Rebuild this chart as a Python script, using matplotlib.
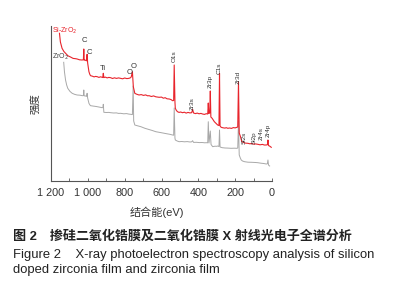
import matplotlib
matplotlib.use("Agg")
import matplotlib.pyplot as plt

# XPS survey spectra (binding energy in eV, intensity in a.u.)
red_ev = [1154, 1149, 1140, 1130, 1121, 1108, 1094, 1080, 1066, 1058, 1045, 1031,
          1024, 1022, 1020, 1016, 1010, 1007, 1004, 1001, 997, 994, 989, 985, 975,
          966, 958, 949, 940, 931, 922, 919, 916, 913, 905, 895, 886, 876, 866, 855,
          845, 833, 822, 811, 800, 788, 776, 768, 764, 758, 753, 745, 735, 722, 710,
          698, 686, 676, 667, 655, 643, 631, 622, 613, 600, 590, 580, 570, 558, 548,
          540, 534, 531, 527, 525, 519, 513, 505, 496, 486, 476, 466, 456, 446, 436,
          431, 426, 416, 406, 396, 386, 377, 367, 357, 349, 346, 343, 338, 335, 332,
          325, 319, 313, 304, 295, 288, 285, 282, 276, 266, 256, 248, 240, 230, 220,
          210, 200, 190, 186, 182, 178, 171, 164, 155, 145, 131, 120, 110, 100, 90,
          77, 65, 52, 42, 31, 25, 22, 19, 12, 4]
red_int = [147.7, 139, 132.7, 129.5, 127.7, 125.2, 124, 122.6, 122.3, 122, 121.2, 121,
           121.3, 132, 120.8, 121, 120.4, 120.2, 126.7, 118, 113, 109.3, 106.5, 105.3, 104.8,
           104.1, 104.6, 104.3, 103.6, 104.2, 103.7, 103.5, 107.7, 103.4, 103.9, 103.1, 103.6, 103.3, 102.5, 103.2,
           102.6, 103.1, 102.7, 102.2, 103, 102.4, 102.7, 103.3, 104.3, 109.3, 94.3, 87.7, 86.8, 86, 86.4,
           85.6, 86.1, 85.2, 85.3, 84.5, 85.1, 84.2, 84, 83.7, 83.9, 82.8, 83.3, 82.2, 82, 81.4,
           80.3, 80.5, 116, 79, 72.7, 70.5, 69.3, 68.6, 69, 68.3, 68.8, 67.9, 68.6, 68.1, 68.3,
           71.7, 68, 67.4, 67.9, 67.2, 67.6, 67, 66.6, 67.3, 67, 78, 67.5, 68, 90, 64,
           62.7, 61, 59.3, 57.6, 56, 55.5, 107.7, 55, 53.7, 53.2, 52.9, 53.3, 52.7, 53, 52.6,
           53.4, 53.1, 53.7, 54, 99.3, 48, 44.3, 39.3, 38.6, 37.9, 37.7, 37.2, 37.5, 36.8, 37.1,
           36.7, 36.2, 36.6, 36, 36, 36.3, 41, 35.5, 34.8, 33.7]

gray_ev = [1131, 1127, 1121, 1115, 1109, 1097, 1085, 1071, 1058, 1042, 1030, 1024,
           1022, 1020, 1012, 1007, 1004, 1001, 997, 994, 989, 985, 970, 958, 949, 935,
           922, 918, 916, 913, 900, 886, 876, 860, 845, 833, 822, 805, 790, 777, 767,
           758, 754, 751, 745, 730, 712, 690, 670, 650, 631, 610, 590, 570, 555, 540,
           534, 531, 527, 525, 515, 504, 490, 475, 460, 445, 436, 431, 426, 410, 395,
           380, 365, 358, 349, 346, 342, 335, 331, 322, 310, 300, 295, 288, 285, 282,
           270, 255, 240, 222, 205, 190, 186, 182, 178, 172, 167, 160, 149, 130, 110,
           90, 77, 60, 45, 31, 25, 22, 19, 13]
gray_int = [118.7, 109.3, 101, 96, 92.7, 89.6, 87.7, 86.6, 86, 85.8, 85.3, 85.4,
            91, 85.2, 85, 84.6, 87.7, 83, 80, 77.7, 76.1, 75.3, 74.9, 74.6, 74.3, 73.8,
            73.3, 73.5, 76.7, 68.7, 68.5, 68.6, 68.3, 68, 68.1, 67.6, 67.7, 67.2, 67.4, 66.9, 66.7,
            66.4, 95, 60, 56, 55.2, 54.3, 52.7, 51.6, 50.5, 49.3, 48.6, 47.9, 47.2, 46.7, 46,
            45.8, 73, 43, 41, 40, 39.3, 39.5, 39.2, 39.4, 39, 39.2, 40.3, 38.6, 38.7, 38.4,
            38.5, 38.2, 38.3, 38.2, 59.3, 38, 50, 36.5, 34.3, 34.8, 34.7, 35, 34.5, 51, 34,
            33.3, 33, 32.9, 32.7, 32.8, 32.7, 33, 60, 26, 23, 21, 20, 19.3, 18.8, 18.7,
            18.5, 18.3, 17.8, 17.5, 17, 17.2, 21, 16, 15]

# peak labels: (text, energy, intensity)
vert_labels = [("O1s", 531, 125), ("Zr3s", 431, 77), ("Zr3p", 335, 100),
               ("C1s", 285, 113), ("Zr3d", 182, 104), ("Si2s", 153, 43),
               ("Si2p", 99, 43), ("Zr4s", 56, 47), ("Zr4p", 19, 51)]
flat_labels = [("C", 1018, 140), ("C", 994, 128.7), ("Ti", 916, 112.7),
               ("O", 771, 108.7), ("O", 749, 114.3)]

xticks = [1200, 1000, 800, 600, 400, 200, 0]
xticklabels = ["1 200", "1 000", "800", "600", "400", "200", "0"]

lat = "Liberation Sans"
cjk = ["Liberation Sans", "Noto Sans CJK SC"]

fig = plt.figure(figsize=(4.1, 3.0), dpi=100)
ax = fig.add_axes([51 / 410, 1 - 181 / 300, 221 / 410, 155 / 300])

ax.plot(gray_ev, gray_int, color="#a8a8a8", lw=0.7)
ax.plot(red_ev, red_int, color="#e8242c", lw=0.8)

ax.set_xlim(1200, 0)
ax.set_ylim(0, 155)
for s in ["top", "right"]:
    ax.spines[s].set_visible(False)
for s in ["left", "bottom"]:
    ax.spines[s].set_color("#555555")
    ax.spines[s].set_linewidth(0.8)

ax.set_yticks([])
ax.set_xticks(xticks)
ax.set_xticklabels(xticklabels, fontfamily=lat, fontsize=7.8, color="#333333")
ax.set_xticks(range(100, 1200, 200), minor=True)
ax.tick_params(axis="x", which="both", direction="in", length=2.5, width=0.6,
               color="#555555", pad=5)

ax.set_xlabel("结合能(eV)", family=cjk, fontsize=8, color="#333333")
ax.xaxis.set_label_coords(0.48, -0.165)
ax.set_ylabel("强度", family=cjk, fontsize=7.5, color="#333333", labelpad=7)

for t, e, i in vert_labels:
    ax.text(e, i, t, rotation=90, ha="center", va="center", fontsize=4.6,
            fontfamily=lat, color="#333333")
for t, e, i in flat_labels:
    ax.text(e, i, t, ha="center", va="center", fontsize=5.5, fontfamily=lat,
            color="#333333")
ax.text(1196, 150, "Si-ZrO$_2$", color="#e8242c", fontsize=5, fontfamily=lat,
        ha="left", va="center")
ax.text(1196, 124, "ZrO$_2$", color="#444444", fontsize=5, fontfamily=lat,
        ha="left", va="center")

fig.text(13 / 410, 1 - 237 / 300, "图 2　掺硅二氧化锆膜及二氧化锆膜 X 射线光电子全谱分析",
         family=cjk, fontsize=9.4, fontweight="bold", color="#222222", va="center")
fig.text(13 / 410, 1 - 255 / 300,
         "Figure 2    X-ray photoelectron spectroscopy analysis of silicon",
         family=lat, fontsize=9.4, color="#222222", va="center")
fig.text(13 / 410, 1 - 270 / 300, "doped zirconia film and zirconia film",
         family=lat, fontsize=9.4, color="#222222", va="center")

fig.savefig("out.png", dpi=100)
